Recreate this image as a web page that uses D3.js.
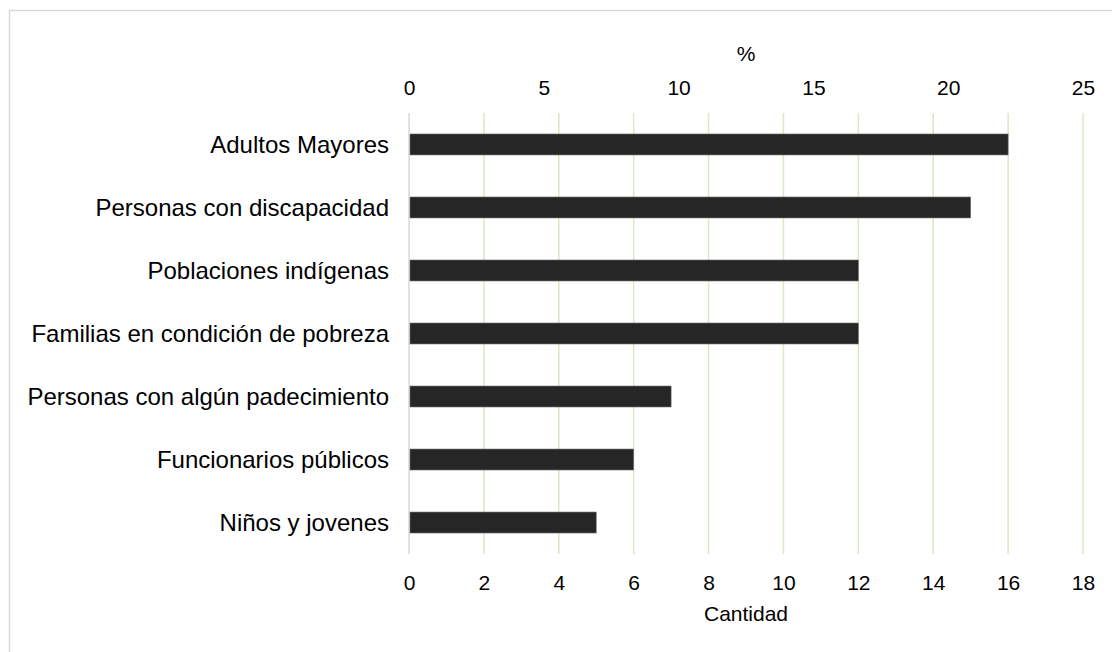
<!DOCTYPE html>
<meta charset="utf-8">
<html lang="es">
<head>
    <title>Poblaciones</title>
    <script src="https://d3js.org/d3.v7.min.js"></script>
    <style>
        body { margin: 0; background: #fff; }
        text { font-family: "Liberation Sans", Arial, sans-serif; fill: #000; }
    </style>
</head>
<body>
    <div id="chart"></div>
    <script>
        // data
        const categories = [
            "Adultos Mayores",
            "Personas con discapacidad",
            "Poblaciones indígenas",
            "Familias en condición de pobreza",
            "Personas con algún padecimiento",
            "Funcionarios públicos",
            "Niños y jovenes"
        ];
        const cantidad = [16, 15, 12, 12, 7, 6, 5];
        const bottomTicks = [0, 2, 4, 6, 8, 10, 12, 14, 16, 18];
        const topTicks = [0, 5, 10, 15, 20, 25];

        const width = 1112,
            height = 652;
        const plot = { left: 409, right: 1083, top: 113, bottom: 554 };

        let svg = d3.select("#chart")
            .append("svg")
            .attr("width", width)
            .attr("height", height);

        // chart frame (cropped at the right and bottom)
        svg.append("path")
            .attr("d", `M9.5,${height + 2} V10.5 H${width + 2}`)
            .attr("fill", "none")
            .attr("stroke", "#d9d9d9")
            .attr("stroke-width", 1.5);

        let x = d3.scaleLinear().domain([0, 18]).range([plot.left, plot.right]);
        let xPct = d3.scaleLinear().domain([0, 25]).range([plot.left, plot.right]);
        let y = d3.scaleBand()
            .domain(categories)
            .range([plot.top, plot.bottom])
            .paddingInner(0.667)
            .paddingOuter(0.333);

        // vertical gridlines
        svg.selectAll(".grid")
            .data(bottomTicks)
            .enter()
            .append("line")
            .attr("x1", (d) => x(d))
            .attr("x2", (d) => x(d))
            .attr("y1", plot.top)
            .attr("y2", plot.bottom)
            .attr("stroke", (d) => d === 0 ? "#d9d9d9" : "#d5ebc4")
            .attr("stroke-width", 1.5);

        // bars
        svg.selectAll(".bar")
            .data(cantidad)
            .enter()
            .append("rect")
            .attr("x", x(0) + 1)
            .attr("y", (d, i) => y(categories[i]))
            .attr("width", (d) => x(d) - x(0) - 1)
            .attr("height", y.bandwidth())
            .attr("fill", "#262626")
            .attr("stroke", "#6f6f6f")
            .attr("stroke-width", 0.6);

        // category labels
        svg.selectAll(".cat")
            .data(categories)
            .enter()
            .append("text")
            .attr("x", 389)
            .attr("y", (d) => y(d) + y.bandwidth() / 2)
            .attr("dy", "0.36em")
            .attr("text-anchor", "end")
            .style("font-size", "24px")
            .text((d) => d);

        // bottom axis (Cantidad)
        let bottomAxis = d3.axisBottom(x).tickValues(bottomTicks).tickSize(0).tickPadding(0);
        let gb = svg.append("g")
            .attr("transform", "translate(0,582)")
            .call(bottomAxis);
        gb.select(".domain").remove();
        gb.selectAll("text")
            .attr("dy", "0.36em")
            .style("font-size", "21px")
            .style("font-family", "'Liberation Sans', Arial, sans-serif")
            .attr("fill", "#000");

        svg.append("text")
            .attr("x", (plot.left + plot.right) / 2)
            .attr("y", 613)
            .attr("dy", "0.36em")
            .attr("text-anchor", "middle")
            .style("font-size", "21px")
            .text("Cantidad");

        // top axis (%)
        let topAxis = d3.axisTop(xPct).tickValues(topTicks).tickSize(0).tickPadding(0);
        let gt = svg.append("g")
            .attr("transform", "translate(0,87)")
            .call(topAxis);
        gt.select(".domain").remove();
        gt.selectAll("text")
            .attr("dy", "0.36em")
            .style("font-size", "21px")
            .style("font-family", "'Liberation Sans', Arial, sans-serif")
            .attr("fill", "#000");

        svg.append("text")
            .attr("x", (plot.left + plot.right) / 2)
            .attr("y", 53)
            .attr("dy", "0.36em")
            .attr("text-anchor", "middle")
            .style("font-size", "21px")
            .text("%");
    </script>
</body>
</html>
